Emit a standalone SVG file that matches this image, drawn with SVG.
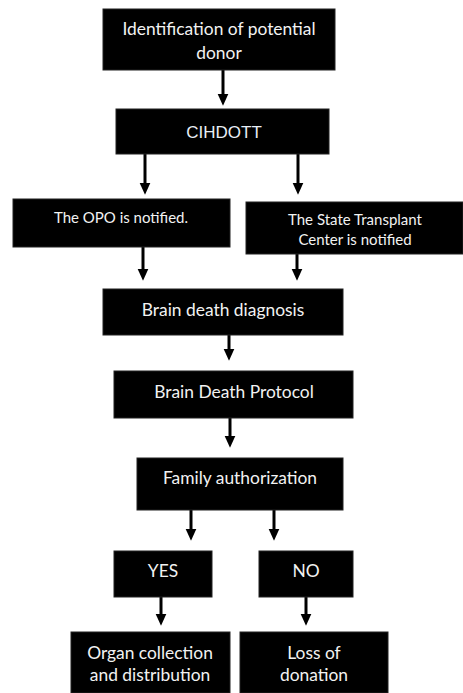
<svg xmlns="http://www.w3.org/2000/svg" width="463" height="693" viewBox="0 0 463 693">
<style>
.box{fill:#000;stroke:#222;stroke-width:1}
.t{font-family:Lato,"Open Sans",sans-serif;font-size:17.4px;fill:#f2f2f2;text-anchor:middle}
.s{font-size:15px}
.t2{font-family:"Liberation Sans",Arial,sans-serif;font-size:17px;fill:#e8eef5;text-anchor:middle}
.c{stroke:#000;stroke-width:3;fill:none;marker-end:url(#ah)}
</style>
<defs>
<marker id="ah" markerWidth="4" markerHeight="4" refX="2.4" refY="2" orient="auto" markerUnits="strokeWidth">
<path d="M0,0.2 L4,2 L0,3.8 Z" fill="#000"/>
</marker>
</defs>
<rect width="463" height="693" fill="#fff"/>
<g id="connectors">
<line class="c" x1="223" y1="70" x2="223" y2="101"/>
<line class="c" x1="145" y1="154" x2="145" y2="190"/>
<line class="c" x1="298" y1="154" x2="298" y2="190"/>
<line class="c" x1="143" y1="247" x2="143" y2="276"/>
<line class="c" x1="297" y1="254" x2="297" y2="276"/>
<line class="c" x1="229" y1="335" x2="229" y2="356"/>
<line class="c" x1="230" y1="418" x2="230" y2="443"/>
<line class="c" x1="191" y1="510" x2="191" y2="536"/>
<line class="c" x1="274" y1="510" x2="274" y2="536"/>
<line class="c" x1="161" y1="597" x2="161" y2="621"/>
<line class="c" x1="306" y1="597" x2="306" y2="621"/>
</g>
<g id="n1"><rect class="box" x="103" y="9" width="232" height="61"/><text class="t" x="219" y="35">Identification of potential</text><text class="t" x="219" y="59">donor</text></g>
<g id="n2"><rect class="box" x="116" y="109" width="213" height="45"/><text class="t2" x="224" y="138">CIHDOTT</text></g>
<g id="n3"><rect class="box" x="13" y="199" width="217" height="48"/><text class="t s" x="121" y="223">The OPO is notified.</text></g>
<g id="n4"><rect class="box" x="246" y="202" width="217" height="52"/><text class="t s" x="355" y="225">The State Transplant</text><text class="t s" x="355" y="245">Center is notified</text></g>
<g id="n5"><rect class="box" x="103" y="289" width="240" height="46"/><text class="t" x="223" y="316">Brain death diagnosis</text></g>
<g id="n6"><rect class="box" x="114" y="371" width="239" height="47"/><text class="t" x="234" y="398">Brain Death Protocol</text></g>
<g id="n7"><rect class="box" x="137" y="458" width="206" height="52"/><text class="t" x="240" y="484">Family authorization</text></g>
<g id="n8"><rect class="box" x="114" y="551" width="98" height="46"/><text class="t" x="163" y="577">YES</text></g>
<g id="n9"><rect class="box" x="259" y="551" width="94" height="46"/><text class="t" x="306" y="577">NO</text></g>
<g id="n10"><rect class="box" x="71" y="632" width="159" height="61"/><text class="t" x="150" y="659">Organ collection</text><text class="t" x="150" y="681">and distribution</text></g>
<g id="n11"><rect class="box" x="240" y="632" width="148" height="61"/><text class="t" x="314" y="659">Loss of</text><text class="t" x="314" y="681">donation</text></g>
</svg>
